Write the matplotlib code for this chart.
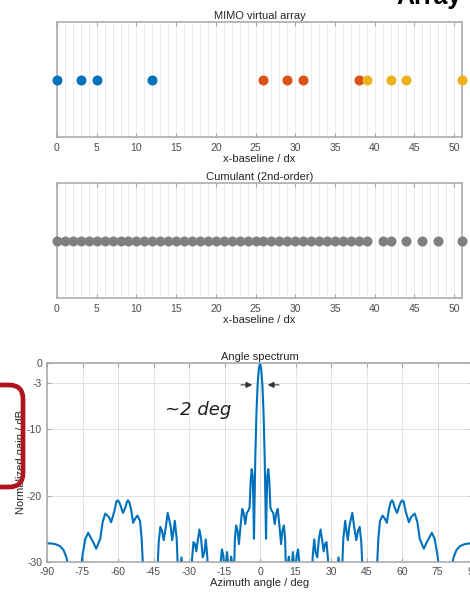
import numpy as np
import matplotlib.pyplot as plt
from matplotlib.patches import FancyBboxPatch
from matplotlib.transforms import IdentityTransform

# virtual array positions (in units of dx)
mimo_blue = [0, 3, 5, 12]
mimo_red = [26, 29, 31, 38]
mimo_yellow = [39, 42, 44, 51]

cumulant_lags = [0, 1, 2, 3, 4, 5, 6, 7, 8, 9, 10, 11, 12, 13, 14, 15, 16, 17, 18, 19,
                 20, 21, 22, 23, 24, 25, 26, 27, 28, 29, 30, 31, 32, 33, 34, 35, 36, 37, 38, 39,
                 41, 42, 44, 46, 48, 51]

# angle spectrum (values below -30 are clipped by the axes)
spec_left_deg = [-90.0, -88.5, -86.5, -84.5, -83.0, -81.8, -80.8, -78.5, -76.0, -75.0,
                 -73.8, -72.6, -70.5, -69.2, -67.5, -66.5, -65.4, -63.9, -62.9, -61.5,
                 -60.7, -60.2, -59.6, -58.9, -57.9, -56.9, -56.3, -55.8, -55.2, -54.5,
                 -53.6, -52.8, -51.8, -50.7, -50.0, -49.4, -46.5, -43.4, -42.8, -42.1,
                 -41.4, -40.7, -39.9, -39.0, -37.8, -37.1, -36.6, -36.0, -35.2, -34.6,
                 -33.8, -33.2, -32.6, -31.0, -29.2, -28.7, -28.1, -27.5, -26.9, -26.3,
                 -25.6, -24.9, -24.2, -23.5, -22.9, -22.3, -21.8, -19.5, -17.2, -16.7,
                 -16.1, -15.5, -15.0, -14.4, -13.9, -13.3, -12.7, -12.2, -11.7, -11.1,
                 -10.6, -10.1, -9.5, -8.9, -8.2, -7.5, -6.9, -6.2, -5.6, -5.0,
                 -4.4, -3.9, -3.5, -3.1, -2.8, -2.55, -2.3, -2.0, -1.5, -1.0,
                 -0.5]
spec_left_db = [-27.2, -27.2, -27.3, -27.6, -28.2, -29.3, -31.0, -40.0, -32.0, -29.0,
                -26.5, -25.6, -27.0, -28.0, -26.5, -24.0, -22.7, -23.2, -24.0, -22.3,
                -20.9, -20.7, -20.9, -21.5, -22.6, -21.8, -21.0, -20.7, -21.0, -22.0,
                -24.1, -23.5, -23.0, -23.8, -26.5, -31.0, -40.0, -32.0, -27.0, -24.7,
                -25.3, -26.7, -25.0, -22.6, -24.5, -26.7, -25.5, -23.8, -26.5, -32.0,
                -31.0, -29.3, -31.0, -40.0, -34.0, -29.5, -27.0, -27.3, -28.4, -26.8,
                -25.1, -26.5, -29.3, -28.5, -26.6, -29.0, -33.0, -40.0, -34.0, -30.5,
                -28.1, -29.0, -31.0, -30.5, -28.5, -31.0, -31.0, -29.2, -30.3, -33.0,
                -26.5, -24.5, -25.2, -27.3, -24.5, -22.0, -22.6, -24.3, -22.6, -22.3,
                -21.8, -17.5, -16.0, -17.0, -21.0, -26.5, -21.0, -14.5, -7.5, -3.2,
                -0.9]
spec_right_deg = [0.0, 0.5, 1.0, 1.5, 2.0, 2.3, 2.55, 2.8, 3.1, 3.5,
                  3.9, 4.4, 5.0, 5.6, 6.2, 6.9, 7.5, 8.2, 8.9, 9.5,
                  10.1, 10.6, 11.1, 11.7, 12.2, 12.7, 13.3, 13.9, 14.4, 15.0,
                  15.5, 16.1, 16.7, 17.2, 19.5, 21.8, 22.3, 22.9, 23.5, 24.2,
                  24.9, 25.6, 26.3, 26.9, 27.5, 28.1, 28.7, 29.2, 31.0, 32.6,
                  33.2, 33.8, 34.6, 35.2, 36.0, 36.6, 37.1, 37.8, 39.0, 39.9,
                  40.7, 41.4, 42.1, 42.8, 43.4, 46.5, 49.4, 50.0, 50.7, 51.8,
                  52.8, 53.6, 54.5, 55.2, 55.8, 56.3, 56.9, 57.9, 58.9, 59.6,
                  60.2, 60.7, 61.5, 62.9, 63.9, 65.4, 66.5, 67.5, 69.2, 70.5,
                  72.6, 73.8, 75.0, 76.0, 78.5, 80.8, 81.8, 83.0, 84.5, 86.5,
                  88.5, 90.0]
spec_right_db = [0.0, -0.9, -3.2, -7.5, -14.5, -21.0, -26.5, -21.0, -17.0, -16.0,
                 -17.5, -21.8, -22.3, -22.6, -24.3, -22.6, -22.0, -24.5, -27.3, -25.2,
                 -24.5, -26.5, -33.0, -30.3, -29.2, -31.0, -31.0, -28.5, -30.5, -31.0,
                 -29.0, -28.1, -30.5, -34.0, -40.0, -33.0, -29.0, -26.6, -28.5, -29.3,
                 -26.5, -25.1, -26.8, -28.4, -27.3, -27.0, -29.5, -34.0, -40.0, -31.0,
                 -29.3, -31.0, -32.0, -26.5, -23.8, -25.5, -26.7, -24.5, -22.6, -25.0,
                 -26.7, -25.3, -24.7, -27.0, -32.0, -40.0, -31.0, -26.5, -23.8, -23.0,
                 -23.5, -24.1, -22.0, -21.0, -20.7, -21.0, -21.8, -22.6, -21.5, -20.9,
                 -20.7, -20.9, -22.3, -24.0, -23.2, -22.7, -24.0, -26.5, -28.0, -27.0,
                 -25.6, -26.5, -29.0, -32.0, -40.0, -31.0, -29.3, -28.2, -27.6, -27.3,
                 -27.2, -27.2]

angle_deg = spec_left_deg + spec_right_deg
gain_db = spec_left_db + spec_right_db

plt.rcParams['font.family'] = ['Liberation Sans', 'DejaVu Sans']
plt.rcParams['axes.unicode_minus'] = False

BLUE = '#0072BD'
RED = '#D95319'
YELLOW = '#EDB120'
GRAY = '#7f7f7f'
SPINE = '#a6a6a6'
TICKTXT = '#4d4d4d'

fig = plt.figure(figsize=(4.7, 5.94), dpi=100)


def style_array_axes(ax, title):
    ax.set_xlim(0, 51)
    ax.set_ylim(-1, 1)
    ax.set_yticks([])
    ax.set_xticks(np.arange(0, 51, 5))
    ax.set_xticks(np.arange(0, 52, 1), minor=True)
    ax.grid(which='both', axis='x', color='#ececec', linewidth=0.7)
    ax.set_axisbelow(True)
    ax.tick_params(axis='x', which='major', direction='in', top=True, length=3,
                   color=SPINE, labelcolor=TICKTXT, labelsize=7.5, pad=4)
    ax.tick_params(axis='x', which='minor', length=0)
    for s in ax.spines.values():
        s.set_color(SPINE)
        s.set_linewidth(1.1)
    ax.set_title(title, fontsize=8, color='#262626', pad=2)
    ax.set_xlabel('x-baseline / dx', fontsize=8, color='#262626', labelpad=1)


ax1 = fig.add_axes([57 / 470, 1 - 137 / 594, 405 / 470, 115 / 594])
style_array_axes(ax1, 'MIMO virtual array')
for pos, col in [(mimo_blue, BLUE), (mimo_red, RED), (mimo_yellow, YELLOW)]:
    ax1.plot(pos, np.zeros(len(pos)), 'o', color=col, markersize=6.2,
             clip_on=False, zorder=5)

ax2 = fig.add_axes([57 / 470, 1 - 298 / 594, 405 / 470, 115 / 594])
style_array_axes(ax2, 'Cumulant (2nd-order)')
ax2.plot(cumulant_lags, np.zeros(len(cumulant_lags)), 'o', color=GRAY,
         markersize=6.2, clip_on=False, zorder=5)

ax3 = fig.add_axes([47 / 470, 1 - 562 / 594, 426 / 470, 199 / 594])
ax3.plot(angle_deg, gain_db, color=BLUE, linewidth=1.5)
ax3.set_xlim(-90, 90)
ax3.set_ylim(-30, 0)
ax3.set_xticks(np.arange(-90, 91, 15))
ax3.set_yticks([-30, -20, -10, -3, 0])
ax3.grid(True, color='#e3e3e3', linewidth=0.7)
ax3.set_axisbelow(True)
ax3.tick_params(direction='in', top=True, right=True, length=3, color=SPINE,
                labelcolor=TICKTXT, labelsize=7.5)
for s in ax3.spines.values():
    s.set_color(SPINE)
    s.set_linewidth(1.1)
ax3.set_title('Angle spectrum', fontsize=8, color='#262626', pad=2)
ax3.set_xlabel('Azimuth angle / deg', fontsize=8, color='#262626', labelpad=1)
ax3.set_ylabel('Normalized gain / dB', fontsize=8, color='#262626', labelpad=1)

# -3 dB width markers
arrow_kw = dict(arrowstyle='-|>', color='#333333', lw=0.8, mutation_scale=9)
ax3.annotate('', xy=(-2.1, -3.3), xytext=(-9.2, -3.3), arrowprops=arrow_kw)
ax3.annotate('', xy=(2.1, -3.3), xytext=(9.2, -3.3), arrowprops=arrow_kw)
ax3.text(-26, -7.1, '~2 deg', fontsize=13, style='italic', color='#1f1f1f',
         ha='center', va='center', family='DejaVu Sans')

# red highlight box over the y label, and the cut heading at the top
fig.add_artist(FancyBboxPatch((-20, 107), 43, 102,
                              boxstyle='round,pad=0,rounding_size=14',
                              transform=IdentityTransform(), fill=False,
                              edgecolor='#b0151b', linewidth=3.4, zorder=10))
fig.text(462, 590, 'Array', transform=IdentityTransform(), ha='right',
         va='baseline', fontsize=18, fontweight='bold', color='black')

fig.savefig('out.png', dpi=100)
